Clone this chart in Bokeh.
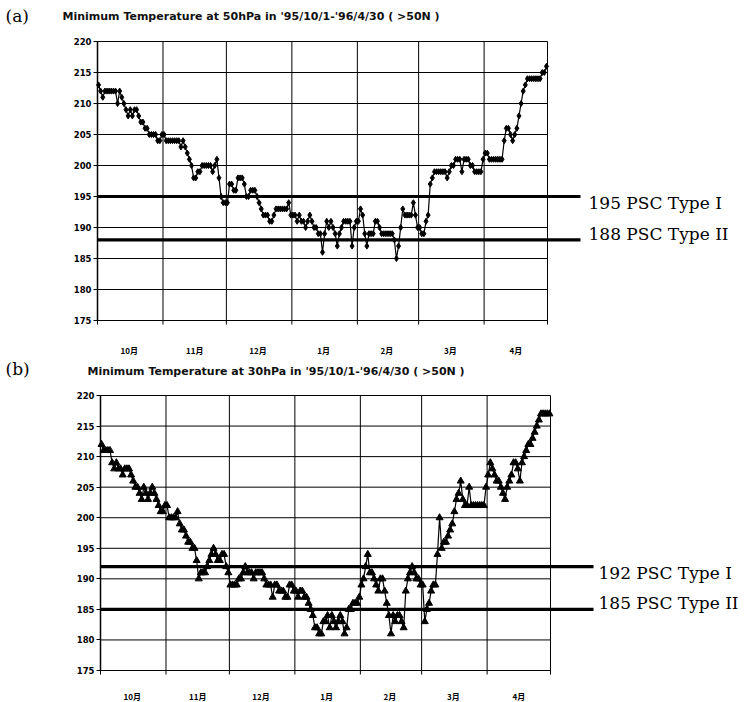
import numpy as np
from bokeh.plotting import figure
from bokeh.layouts import column
from bokeh.models import Range1d, FixedTicker
from bokeh.embed import file_html
from bokeh.resources import INLINE
from bokeh.core.properties import value

# ---------------- data ----------------
MONTHS = ["10月", "11月", "12月", "1月", "2月", "3月", "4月"]
MONTH_DAYS = [31, 30, 31, 31, 29, 31, 30]
Y_TICKS = [175, 180, 185, 190, 195, 200, 205, 210, 215, 220]

# 50 hPa daily minimum temperature (K), 1995/10/1 - 1996/4/30
T50_OCT = [213, 212, 211, 212, 212, 212, 212, 212, 212, 210, 212, 211, 210, 209, 208, 209,
           208, 209, 209, 208, 207, 207, 206, 206, 205, 205, 205, 205, 204, 204, 205]
T50_NOV = [205, 204, 204, 204, 204, 204, 204, 204, 203, 204, 203, 202, 201, 200, 198,
           198, 199, 199, 200, 200, 200, 200, 200, 199, 200, 201, 198, 195, 194, 194]
T50_DEC = [194, 197, 197, 196, 196, 198, 198, 198, 197, 195, 195, 196, 196, 196, 195, 194,
           193, 192, 192, 192, 191, 191, 192, 193, 193, 193, 193, 193, 193, 194, 192]
T50_JAN = [192, 192, 191, 192, 191, 191, 190, 191, 192, 191, 190, 190, 189, 189, 186, 189,
           191, 190, 191, 190, 189, 187, 189, 190, 191, 191, 191, 191, 187, 190, 191]
T50_FEB = [191, 193, 192, 189, 187, 189, 189, 189, 191, 191, 190, 189, 189, 189, 189,
           189, 189, 188, 185, 187, 190, 193, 192, 192, 192, 192, 194, 192, 190]
T50_MAR = [190, 189, 189, 191, 192, 197, 198, 199, 199, 199, 199, 199, 199, 198, 199, 200,
           200, 201, 201, 201, 199, 201, 201, 201, 200, 200, 199, 199, 199, 199, 201]
T50_APR = [202, 202, 201, 201, 201, 201, 201, 201, 201, 204, 206, 206, 205, 204, 205,
           206, 208, 210, 212, 213, 214, 214, 214, 214, 214, 214, 214, 215, 215, 216]

# 30 hPa daily minimum temperature (K)
T30_OCT = [212, 211, 211, 211, 211, 209, 208, 209, 208, 208, 207, 208, 208, 208, 207, 206,
           205, 205, 204, 203, 205, 204, 203, 204, 205, 204, 203, 202, 201, 201, 202]
T30_NOV = [202, 200, 200, 200, 200, 201, 199, 198, 198, 197, 196, 196, 195, 195, 193,
           190, 191, 191, 191, 192, 193, 194, 195, 194, 193, 193, 194, 194, 192, 191]
T30_DEC = [189, 189, 189, 189, 190, 190, 191, 192, 191, 191, 191, 190, 191, 191, 191, 191,
           190, 189, 189, 189, 187, 189, 189, 188, 188, 188, 187, 187, 189, 189, 188]
T30_JAN = [188, 187, 188, 188, 187, 187, 186, 185, 184, 182, 182, 181, 181, 183, 183, 184,
           182, 184, 183, 182, 183, 184, 183, 181, 182, 185, 185, 186, 186, 186, 187]
T30_FEB = [189, 190, 192, 194, 191, 191, 190, 189, 188, 190, 190, 188, 186, 184, 181,
           184, 183, 184, 184, 183, 182, 188, 190, 191, 192, 191, 190, 190, 189]
T30_MAR = [189, 183, 185, 186, 188, 189, 189, 194, 200, 195, 196, 196, 197, 198, 199, 201,
           203, 204, 206, 203, 202, 202, 205, 202, 202, 202, 202, 202, 202, 202, 205]
T30_APR = [207, 209, 208, 207, 206, 206, 205, 204, 203, 205, 206, 207, 209, 209, 208,
           206, 209, 210, 211, 212, 212, 213, 214, 215, 216, 217, 217, 217, 217, 217]

T50 = T50_OCT + T50_NOV + T50_DEC + T50_JAN + T50_FEB + T50_MAR + T50_APR
T30 = T30_OCT + T30_NOV + T30_DEC + T30_JAN + T30_FEB + T30_MAR + T30_APR

PSC_50 = [195, 188]
PSC_30 = [192, 185]
PSC_LABELS_50 = ["195  PSC Type I", "188 PSC Type II"]
PSC_LABELS_30 = ["192 PSC Type I", "185 PSC Type II"]
TITLE_50 = "Minimum Temperature at 50hPa in '95/10/1-'96/4/30 ( >50N )"
TITLE_30 = "Minimum Temperature at 30hPa in '95/10/1-'96/4/30 ( >50N )"
TAGS = ["(a)", "(b)"]

# --------------- helpers ---------------
BOUNDS = [0] + [int(v) for v in np.cumsum(MONTH_DAYS)]
N_DAYS = BOUNDS[-1]
CENTERS = [int((BOUNDS[i] + BOUNDS[i + 1]) // 2) for i in range(len(MONTHS))]
DAYS = np.arange(N_DAYS) + 0.5

W = 752
PX_PER_DAY = 450 / N_DAYS


def panel(temps, marker, msize, psc, psc_labels, title, tag, canvas_top, height,
          axis_x, top220, ppu, line_end_px, text_px, title_px, tag_y, title_y, standoff):
    def dx(px):
        return (px - axis_x) / PX_PER_DAY

    def dy(py):
        return 220 - (py - top220) / ppu

    p = figure(width=W, height=height, output_backend="svg", toolbar_location=None,
               x_range=Range1d(dx(0), dx(W)),
               y_range=Range1d(dy(canvas_top + height), dy(canvas_top)),
               min_border=0, min_border_left=0, min_border_right=0,
               min_border_top=0, min_border_bottom=0,
               background_fill_color="white", border_fill_color="white")
    p.outline_line_color = None
    p.xgrid.visible = False
    p.ygrid.visible = False

    # grid lines / box (vertical lines poke slightly below the bottom as tick marks)
    p.segment(x0=[0] * len(Y_TICKS), x1=[N_DAYS] * len(Y_TICKS), y0=Y_TICKS, y1=Y_TICKS,
              line_color="black", line_width=1)
    tick_low = Y_TICKS[0] - 4 / ppu
    p.segment(x0=BOUNDS, x1=BOUNDS, y0=[tick_low] * len(BOUNDS),
              y1=[Y_TICKS[-1]] * len(BOUNDS), line_color="black", line_width=1)

    # PSC thresholds
    p.segment(x0=[0] * len(psc), x1=[dx(line_end_px)] * len(psc), y0=psc, y1=psc,
              line_color="black", line_width=3.2)
    p.text(x=[dx(text_px)] * len(psc), y=psc, text=psc_labels, y_offset=[6, -6],
           text_font=value("DejaVu Serif"), text_font_size="17px",
           text_baseline="middle", text_align="left", text_color="black")

    # data
    p.line(DAYS, temps, line_color="black", line_width=1.2)
    p.scatter(DAYS, temps, marker=marker, size=msize, color="black")

    # tag and title
    p.text(x=[dx(5)], y=[dy(tag_y)], text=[tag],
           text_font=value("DejaVu Serif"), text_font_size="17px",
           text_baseline="middle", text_align="left", text_color="black")
    p.text(x=[dx(title_px)], y=[dy(title_y)], text=[title],
           text_font=value("DejaVu Sans"), text_font_size="11px", text_font_style="bold",
           text_baseline="middle", text_align="left", text_color="#111111")

    # y axis drawn at day 0
    ya = p.yaxis[0]
    ya.fixed_location = 0
    ya.ticker = FixedTicker(ticks=Y_TICKS)
    ya.bounds = (Y_TICKS[0], Y_TICKS[-1])
    ya.axis_line_width = 1.5
    ya.axis_line_color = "black"
    ya.major_tick_in = 0
    ya.major_tick_out = 4
    ya.minor_tick_line_color = None
    ya.major_label_standoff = 2
    ya.major_label_text_font = "DejaVu Sans"
    ya.major_label_text_font_style = "bold"
    ya.major_label_text_font_size = "8.5px"
    ya.major_label_text_color = "black"

    # x axis (month labels) drawn at 175
    xa = p.xaxis[0]
    xa.fixed_location = Y_TICKS[0]
    xa.ticker = FixedTicker(ticks=CENTERS)
    xa.major_label_overrides = {c: m for c, m in zip(CENTERS, MONTHS)}
    xa.bounds = (0, N_DAYS)
    xa.axis_line_color = None
    xa.major_tick_line_color = None
    xa.minor_tick_line_color = None
    xa.major_label_standoff = standoff
    xa.major_label_text_font = "Noto Sans CJK JP"
    xa.major_label_text_font_style = "bold"
    xa.major_label_text_font_size = "8px"
    xa.major_label_text_color = "black"
    return p


H_A = 356
H_B = 702 - H_A
pa = panel(T50, "diamond", 6, PSC_50, PSC_LABELS_50, TITLE_50, TAGS[0],
           canvas_top=0, height=H_A, axis_x=97, top220=41, ppu=279 / 45,
           line_end_px=580, text_px=588, title_px=62, tag_y=15, title_y=16, standoff=18)
pb = panel(T30, "triangle", 7, PSC_30, PSC_LABELS_30, TITLE_30, TAGS[1],
           canvas_top=H_A, height=H_B, axis_x=100, top220=395, ppu=275 / 45,
           line_end_px=593, text_px=598, title_px=87, tag_y=368, title_y=371, standoff=14)

layout = column(pa, pb, spacing=0)
open("out.html", "w").write(file_html(layout, INLINE))
